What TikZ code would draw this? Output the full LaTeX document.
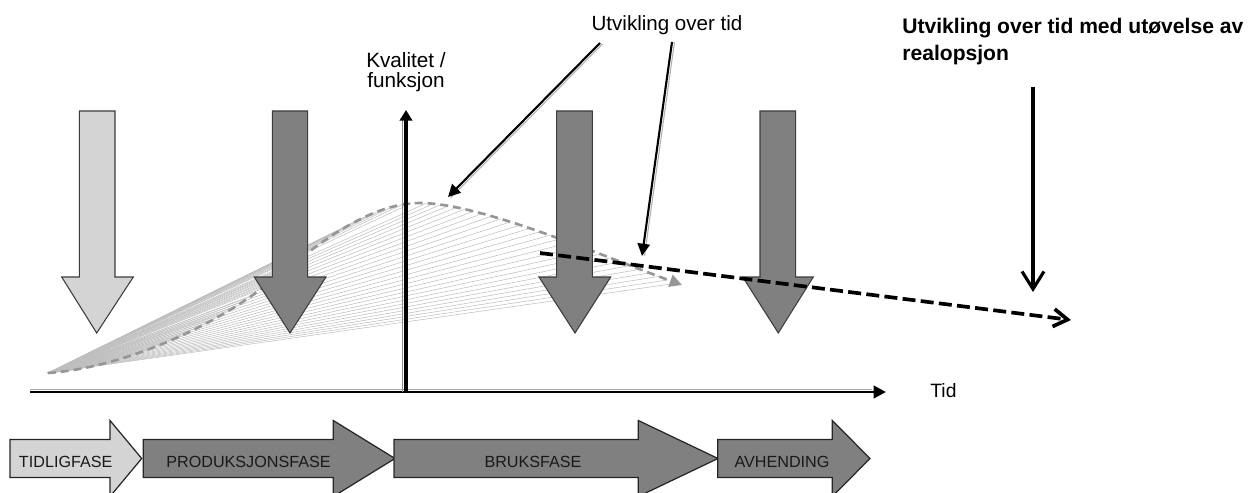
\documentclass[tikz,border=0pt]{standalone}
\usepackage{fontspec}
\setmainfont{Liberation Sans}
\usetikzlibrary{arrows.meta}

\definecolor{lightfill}{HTML}{D4D4D4}
\definecolor{darkfill}{HTML}{808080}
\definecolor{edgegray}{HTML}{3C3C3C}
\definecolor{fangray}{HTML}{BEBEBE}
\definecolor{curvegray}{HTML}{969696}

% downward block arrow: shaft left, shaft right, head left, head right, tip x, fill
\newcommand{\dropshape}[6]{%
  \draw[droparrow, fill=#6] (#1,111) -- (#2,111) -- (#2,277) -- (#4,277)
    -- (#5,333) -- (#3,277) -- (#1,277) -- cycle;}
% phase arrow along the bottom: body left, head base, tip x, fill
\newcommand{\phaseshape}[4]{%
  \draw[phasebox, fill=#4] (#1,439.5) -- (#2,439.5) -- (#2,420.5) -- (#3,458.5)
    -- (#2,496.5) -- (#2,477.5) -- (#1,477.5) -- cycle;}

\begin{document}
\begin{tikzpicture}[x=0.02cm,y=-0.02cm,
  droparrow/.style={draw=edgegray, line width=0.6pt, line join=miter},
  phasebox/.style={draw=black!85, line width=0.7pt, line join=miter},
  phaselabel/.style={font=\fontsize{9.2}{11}\selectfont, text=black!90, anchor=base, inner sep=0pt},
  fanline/.style={draw=fangray, line width=0.3pt},
  pointer/.style={draw=black, line width=1.2pt, -{Triangle[length=7pt,width=7pt]}},
  pointershadow/.style={draw=black!30, line width=0.6pt},
]
\useasboundingbox (0,0) rectangle (1250,493);

\coordinate (O) at (48,373);
\coordinate (q1) at (257,292);
\coordinate (q2) at (420,203);
\coordinate (q3) at (682,285);

% fan of thin lines from the origin to points on the quality curve
\foreach \t in {0.04,0.08,...,1.0} {
  \path (O) .. controls (120,368) and (205,330) .. (q1) coordinate[pos=\t] (fanend);
  \draw[fanline] (O) -- (fanend);
}
\foreach \t in {0.05,0.10,...,1.0} {
  \path (q1) .. controls (300,260) and (360,203) .. (q2) coordinate[pos=\t] (fanend);
  \draw[fanline] (O) -- (fanend);
}
\foreach \t in {0.035,0.07,...,1.0} {
  \path (q2) .. controls (480,203) and (600,255) .. (q3) coordinate[pos=\t] (fanend);
  \draw[fanline] (O) -- (fanend);
}

% the quality curve itself
\draw[curvegray, line width=1.5pt, dash pattern=on 4.5pt off 2.8pt, -{Triangle[length=7pt,width=7pt]}]
  (O) .. controls (120,368) and (205,330) .. (q1)
      .. controls (300,260) and (360,203) .. (q2)
      .. controls (480,203) and (600,255) .. (q3);

% phase markers from above
\dropshape{79.3}{115}{61.7}{133.3}{96.7}{lightfill}
\dropshape{272.3}{307.7}{254.3}{326}{290}{darkfill}
\dropshape{556.7}{592.3}{539}{610.7}{575}{darkfill}
\dropshape{760}{795.7}{742.7}{813.3}{778.3}{darkfill}

% axes
\coordinate (xstart) at (30,392);
\coordinate (xend) at (886,392);
\coordinate (ystart) at (406,392);
\coordinate (yend) at (406,110);
\draw[black!35, line width=0.5pt] (30,389) -- (872,389);
\draw[line width=1.7pt, -{Triangle[length=7pt,width=7pt]}] (xstart) -- (xend);
\draw[black!45, line width=0.6pt] (402.5,392) -- (402.5,120);
\draw[line width=1.8pt, -{Triangle[length=6pt,width=7pt]}] (ystart) -- (yend);

% development with the real option exercised
\coordinate (d1) at (540,253);
\coordinate (d2) at (1071,320);
\draw[line width=2.1pt, dash pattern=on 7.4pt off 3pt, -{Straight Barb[length=8pt,width=10pt]}] (d1) -- (d2);

% labels
\node[font=\fontsize{11.8}{11.3}\selectfont, align=center, anchor=north, inner sep=0pt] (quality) at (406,52) {Kvalitet /\\funksjon};
\node[font=\fontsize{11.7}{14}\selectfont, anchor=base, inner sep=0pt] (trend) at (667,31) {Utvikling over tid};
\node[font=\bfseries\fontsize{12}{15.3}\selectfont, align=left, anchor=north west, inner sep=0pt] (option) at (902,18) {Utvikling over tid med utøvelse av\\realopsjon};
\node[font=\fontsize{11}{13}\selectfont, anchor=base west, inner sep=0pt] (tid) at (930,397) {Tid};

% pointers from the labels
\coordinate (p1s) at (600,43);
\coordinate (p1e) at (448,197);
\coordinate (p2s) at (672,42);
\coordinate (p2e) at (642,256);
\draw[pointershadow] ([shift={(2.5,1)}]p1s) -- ([shift={(2.5,1)}]p1e);
\draw[pointershadow] ([shift={(2.5,0)}]p2s) -- ([shift={(2.5,0)}]p2e);
\draw[pointer] (p1s) -- (p1e);
\draw[pointer] (p2s) -- (p2e);

\coordinate (r1) at (1033,87);
\coordinate (r2) at (1033,292);
\draw[line width=1.8pt, -{Straight Barb[length=10pt,width=12.5pt]}] (r1) -- (r2);

% life-cycle phases
\phaseshape{10}{110}{141.7}{lightfill}
\phaseshape{143.3}{333.3}{395}{darkfill}
\phaseshape{394}{638.3}{718}{darkfill}
\phaseshape{717.7}{832.3}{870}{darkfill}
\node[phaselabel] (ph1) at (65.7,467) {TIDLIGFASE};
\node[phaselabel] (ph2) at (248.5,467) {PRODUKSJONSFASE};
\node[phaselabel] (ph3) at (533,467) {BRUKSFASE};
\node[phaselabel] (ph4) at (782,467) {AVHENDING};
\end{tikzpicture}
\end{document}
